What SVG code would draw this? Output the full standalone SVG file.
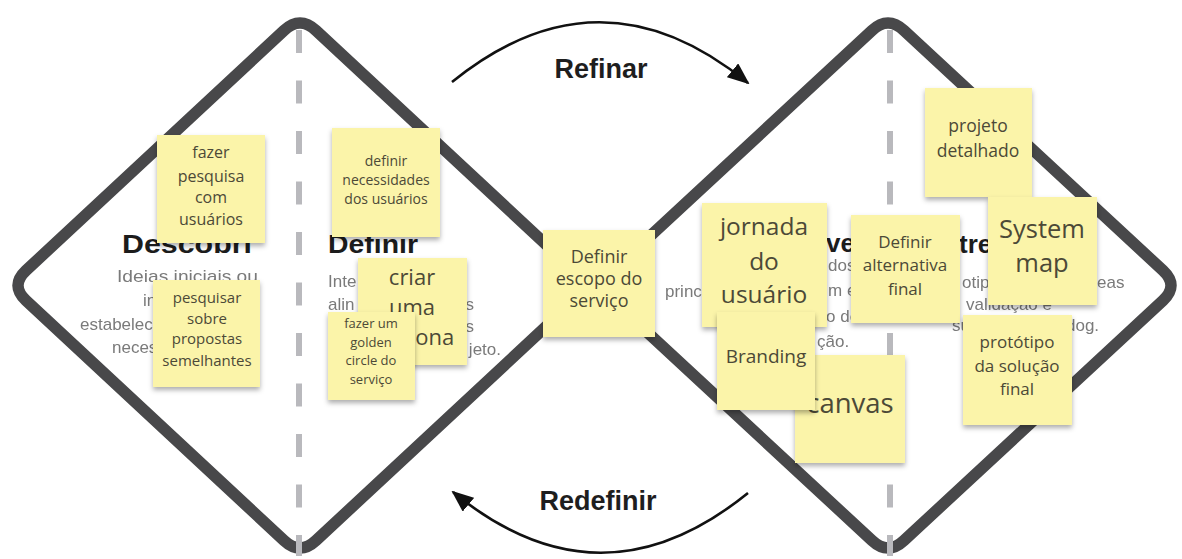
<svg xmlns="http://www.w3.org/2000/svg" width="1182" height="559" viewBox="0 0 1182 559">
<defs>
<filter id="sh" x="-10%" y="-10%" width="125%" height="130%">
<feDropShadow dx="0" dy="3" stdDeviation="2.5" flood-color="#000" flood-opacity="0.32"/>
</filter>
<filter id="bl" x="-5%" y="-20%" width="110%" height="140%"><feGaussianBlur stdDeviation="0.5"/></filter>
<marker id="ah" viewBox="0 0 22 18" refX="20" refY="9" markerWidth="22" markerHeight="18" markerUnits="userSpaceOnUse" orient="auto">
<path d="M0,0 L22,9 L0,18 z" fill="#111"/>
</marker>
<style>
.dia{fill:none;stroke:#48484a;stroke-width:11.5;stroke-linejoin:round}
.dash{stroke:#b9b9bd;stroke-width:6;stroke-dasharray:23 27.5;fill:none}
.arc{fill:none;stroke:#111;stroke-width:2.6;marker-end:url(#ah)}
.lbl{font-family:"Liberation Sans",Arial,sans-serif;font-weight:bold;font-size:27px;fill:#1e1e1e;text-anchor:middle}
.hd{font-family:"Liberation Sans",Arial,sans-serif;font-weight:bold;font-size:26px;fill:#1c1c1c}
.ds{font-family:"Liberation Sans",Arial,sans-serif;font-size:17px;fill:#7a7a7a}
.note rect{fill:#fbf4a9}
.nt{font-family:"Open Sans","Noto Sans",sans-serif;fill:#4c4937;text-anchor:middle}
</style>
</defs>
<rect width="1182" height="559" fill="#ffffff"/>

<g id="diamonds">
<path class="dia" d="M284,30.5 Q300,15.5 316,30.5 L574,270.5 Q590,285.5 574,300.5 L316,540.5 Q300,555.5 284,540.5 L26,300.5 Q10,285.5 26,270.5 Z"/>
<path class="dia" d="M872,30.5 Q888,15.5 904,30.5 L1163,270.5 Q1179,285.5 1163,300.5 L904,540.5 Q888,555.5 872,540.5 L613,300.5 Q597,285.5 613,270.5 Z"/>
<path class="dash" d="M299,30 V556"/>
<path class="dash" d="M890,30 V556"/>
</g>

<g id="background-text">
<text class="hd" x="122" y="253" textLength="130" lengthAdjust="spacingAndGlyphs">Descobri</text>
<text class="hd" x="328" y="253" textLength="90" lengthAdjust="spacingAndGlyphs">Definir</text>
<text class="hd" x="826" y="252">ve</text>
<text class="hd" x="959" y="253">tre</text>
<g filter="url(#bl)">
<text class="ds" x="117" y="282" textLength="141" lengthAdjust="spacingAndGlyphs">Ideias iniciais ou</text>
<text class="ds" x="143" y="306">in</text>
<text class="ds" x="80" y="330">estabelec</text>
<text class="ds" x="112" y="353">neces</text>
<text class="ds" x="328" y="287">Inte</text>
<text class="ds" x="328" y="310">alin</text>
<text class="ds" x="474" y="310" text-anchor="end">s</text>
<text class="ds" x="474" y="332" text-anchor="end">s</text>
<text class="ds" x="501" y="355" text-anchor="end">jeto.</text>
<text class="ds" x="665" y="297">princ</text>
<text class="ds" x="828" y="271">dos</text>
<text class="ds" x="828" y="296">m e</text>
<text class="ds" x="826" y="322">o de</text>
<text class="ds" x="817" y="347">ção.</text>
<text class="ds" x="962" y="288">otip</text>
<text class="ds" x="1097" y="288">eas</text>
<text class="ds" x="966" y="310">validação e</text>
<text class="ds" x="952" y="331">sug</text>
<text class="ds" x="1066" y="331">dog.</text>
</g>
</g>

<g id="connectors">
<path class="arc" d="M452,82 Q600,-38 748,83"/>
<path class="arc" d="M748,493 Q600,613 453,492"/>
<text class="lbl" x="601" y="78">Refinar</text>
<text class="lbl" x="598" y="510">Redefinir</text>
</g>

<g id="n-fazer-pesquisa" class="note"><rect x="157" y="135" width="108" height="108" filter="url(#sh)"/>
<text class="nt" font-size="16"><tspan x="211" y="158">fazer</tspan><tspan x="211" y="182">pesquisa</tspan><tspan x="211" y="203">com</tspan><tspan x="211" y="225">usuários</tspan></text></g>

<g id="n-definir-necessidades" class="note"><rect x="332" y="128" width="108" height="109" filter="url(#sh)"/>
<text class="nt" font-size="14"><tspan x="386" y="166">definir</tspan><tspan x="386" y="185">necessidades</tspan><tspan x="386" y="204">dos usuários</tspan></text></g>

<g id="n-pesquisar" class="note"><rect x="153" y="280" width="107" height="107" filter="url(#sh)"/>
<text class="nt" font-size="15"><tspan x="207" y="303">pesquisar</tspan><tspan x="207" y="324">sobre</tspan><tspan x="207" y="344">propostas</tspan><tspan x="207" y="366">semelhantes</tspan></text></g>

<g id="n-persona" class="note"><rect x="358" y="258" width="109" height="107" filter="url(#sh)"/>
<text class="nt" font-size="22"><tspan x="412" y="285">criar</tspan><tspan x="412" y="315">uma</tspan><tspan x="412" y="345">persona</tspan></text></g>

<g id="n-golden" class="note"><rect x="328" y="312" width="87" height="88" filter="url(#sh)"/>
<text class="nt" font-size="13"><tspan x="371" y="328">fazer um</tspan><tspan x="371" y="347">golden</tspan><tspan x="371" y="365">circle do</tspan><tspan x="371" y="384">serviço</tspan></text></g>

<g id="n-escopo" class="note"><rect x="543" y="230" width="112" height="107" filter="url(#sh)"/>
<text class="nt" font-size="18"><tspan x="599" y="263">Definir</tspan><tspan x="599" y="285">escopo do</tspan><tspan x="599" y="307">serviço</tspan></text></g>

<g id="n-jornada" class="note"><rect x="702" y="203" width="125" height="124" filter="url(#sh)"/>
<text class="nt" font-size="24.5"><tspan x="764" y="235">jornada</tspan><tspan x="764" y="270">do</tspan><tspan x="764" y="303">usuário</tspan></text></g>

<g id="n-canvas" class="note"><rect x="795" y="355" width="110" height="108" filter="url(#sh)"/>
<text class="nt" font-size="27.5"><tspan x="850" y="413">canvas</tspan></text></g>

<g id="n-branding" class="note"><rect x="717" y="312" width="98" height="98" filter="url(#sh)"/>
<text class="nt" font-size="19"><tspan x="766" y="363">Branding</tspan></text></g>

<g id="n-alternativa" class="note"><rect x="851" y="215" width="109" height="108" filter="url(#sh)"/>
<text class="nt" font-size="17"><tspan x="905" y="248">Definir</tspan><tspan x="905" y="271">alternativa</tspan><tspan x="905" y="295">final</tspan></text></g>

<g id="n-projeto" class="note"><rect x="925" y="88" width="107" height="109" filter="url(#sh)"/>
<text class="nt" font-size="17.5"><tspan x="978" y="132">projeto</tspan><tspan x="978" y="157">detalhado</tspan></text></g>

<g id="n-system" class="note"><rect x="988" y="197" width="109" height="108" filter="url(#sh)"/>
<text class="nt" font-size="25.5"><tspan x="1042" y="238">System</tspan><tspan x="1042" y="272">map</tspan></text></g>

<g id="n-prototipo" class="note"><rect x="963" y="315" width="109" height="110" filter="url(#sh)"/>
<text class="nt" font-size="17"><tspan x="1017" y="348">protótipo</tspan><tspan x="1017" y="372">da solução</tspan><tspan x="1017" y="395">final</tspan></text></g>
</svg>
